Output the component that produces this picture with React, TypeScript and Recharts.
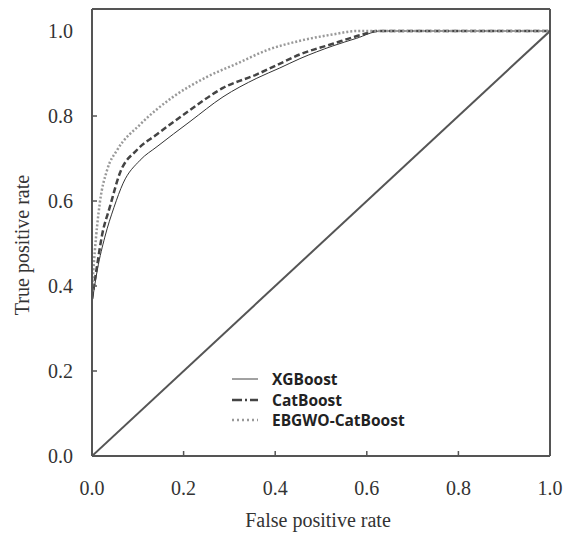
import React from "react";
import { LineChart, Line, XAxis, YAxis, ReferenceLine } from "recharts";

const xgbFpr = [0, 0.012, 0.028, 0.048, 0.068, 0.105, 0.142, 0.214, 0.286, 0.36, 0.41, 0.454, 0.526, 0.578, 0.63, 0.8, 1.0];
const xgbTpr = [0.36, 0.44, 0.515, 0.585, 0.642, 0.696, 0.728, 0.787, 0.845, 0.889, 0.913, 0.935, 0.965, 0.983, 1.0, 1.0, 1.0];

const catFpr = [0, 0.01, 0.022, 0.039, 0.061, 0.098, 0.142, 0.214, 0.286, 0.36, 0.404, 0.454, 0.526, 0.585, 0.625, 0.8, 1.0];
const catTpr = [0.37, 0.44, 0.52, 0.586, 0.666, 0.72, 0.757, 0.814, 0.866, 0.898, 0.92, 0.945, 0.97, 0.99, 1.0, 1.0, 1.0];

const ebgFpr = [0, 0.006, 0.017, 0.033, 0.055, 0.105, 0.177, 0.251, 0.32, 0.382, 0.454, 0.526, 0.578, 0.8, 1.0];
const ebgTpr = [0.39, 0.48, 0.595, 0.673, 0.72, 0.78, 0.845, 0.892, 0.925, 0.955, 0.977, 0.992, 1.0, 1.0, 1.0];

const diagFpr = [0, 1];
const diagTpr = [0, 1];

const seriesNames = ["XGBoost", "CatBoost", "EBGWO-CatBoost"];
const axisTicks = [0, 0.2, 0.4, 0.6, 0.8, 1.0];
const xTitle = "False positive rate";
const yTitle = "True positive rate";

const zip = (xs: number[], ys: number[]) => xs.map((x, i) => ({ x, y: ys[i] }));

const xgbData = zip(xgbFpr, xgbTpr);
const catData = zip(catFpr, catTpr);
const ebgData = zip(ebgFpr, ebgTpr);
const diagData = zip(diagFpr, diagTpr);

const FRAME = "#555";
const serif = "'Liberation Serif', 'Times New Roman', serif";

const XTick = (props: any) => {
  const { x, y, payload } = props;
  const v = payload.value;
  const showMark = v > 0 && v < 1;
  return (
    <g>
      {showMark && <line x1={x} x2={x} y1={y} y2={y - 5} stroke={FRAME} strokeWidth={1.5} />}
      <text x={x} y={y + 39} textAnchor="middle" fontFamily={serif} fontSize={20} fill="#333">
        {v.toFixed(1)}
      </text>
    </g>
  );
};

const YTick = (props: any) => {
  const { x, y, payload } = props;
  const v = payload.value;
  const showMark = v > 0 && v < 1;
  return (
    <g>
      {showMark && <line x1={x} x2={x + 5} y1={y} y2={y} stroke={FRAME} strokeWidth={1.5} />}
      <text x={x - 19} y={y + 7} textAnchor="end" fontFamily={serif} fontSize={20} fill="#333">
        {v.toFixed(1)}
      </text>
    </g>
  );
};

const XTitle = (props: any) => {
  const vb = props.viewBox || {};
  const cx = (vb.x ?? 92) + (vb.width ?? 458) / 2;
  return (
    <text x={cx - 3} y={527} textAnchor="middle" fontFamily={serif} fontSize={20} fill="#333">
      {xTitle}
    </text>
  );
};

const YTitle = () => {
  const cy = 245;
  return (
    <text x={22} y={cy} transform={`rotate(-90 22 ${cy})`} textAnchor="middle" dominantBaseline="central" fontFamily={serif} fontSize={20} fill="#333">
      {yTitle}
    </text>
  );
};

const legendStyles = [
  { stroke: "#444", width: 1, dash: undefined as string | undefined },
  { stroke: "#444", width: 2.5, dash: "10 3 2 3" },
  { stroke: "#999", width: 2.5, dash: "2 3" },
];

const LegendBox = () => (
  <div
    style={{
      position: "absolute",
      left: 230,
      top: 369,
      fontFamily: "'Open Sans', 'Noto Sans', sans-serif",
      fontWeight: 700,
      fontSize: 15.5,
      color: "#222",
      lineHeight: "20.5px",
    }}
  >
    {seriesNames.map((n, i) => (
      <div key={n} style={{ display: "flex", alignItems: "center", height: 20.5 }}>
        <svg width={34} height={10} style={{ marginRight: 8 }}>
          <line x1={2} x2={28} y1={5} y2={5} stroke={legendStyles[i].stroke} strokeWidth={legendStyles[i].width} strokeDasharray={legendStyles[i].dash} />
        </svg>
        <span>{n}</span>
      </div>
    ))}
  </div>
);

export default function App() {
  return (
    <div style={{ position: "absolute", left: 0, top: 0, width: 565, height: 533, background: "#fff" }}>
      <LineChart width={565} height={533} margin={{ top: 9, right: 15, bottom: 0, left: 0 }}>
        <XAxis
          type="number"
          dataKey="x"
          domain={[0, 1]}
          ticks={axisTicks}
          allowDataOverflow
          tickLine={false}
          tickSize={0}
          tickMargin={0}
          height={77}
          stroke={FRAME}
          strokeWidth={2}
          tick={<XTick />}
          label={<XTitle />}
        />
        <YAxis
          type="number"
          dataKey="y"
          domain={[0, 1.0518]}
          ticks={axisTicks}
          allowDataOverflow
          tickLine={false}
          tickSize={0}
          tickMargin={0}
          width={92}
          stroke={FRAME}
          strokeWidth={2}
          tick={<YTick />}
          label={<YTitle />}
        />
        <ReferenceLine y={1.0518} stroke={FRAME} strokeWidth={2} />
        <ReferenceLine x={1} stroke={FRAME} strokeWidth={2} />
        <Line data={diagData} dataKey="y" type="linear" stroke="#555" strokeWidth={2} dot={false} isAnimationActive={false} />
        <Line data={xgbData} dataKey="y" name={seriesNames[0]} type="monotone" stroke="#333" strokeWidth={1} dot={false} isAnimationActive={false} />
        <Line data={catData} dataKey="y" name={seriesNames[1]} type="monotone" stroke="#444" strokeWidth={2.5} strokeDasharray="6 3" dot={false} isAnimationActive={false} />
        <Line data={ebgData} dataKey="y" name={seriesNames[2]} type="monotone" stroke="#999" strokeWidth={2.5} strokeDasharray="2 2" dot={false} isAnimationActive={false} />
      </LineChart>
      <LegendBox />
    </div>
  );
}
